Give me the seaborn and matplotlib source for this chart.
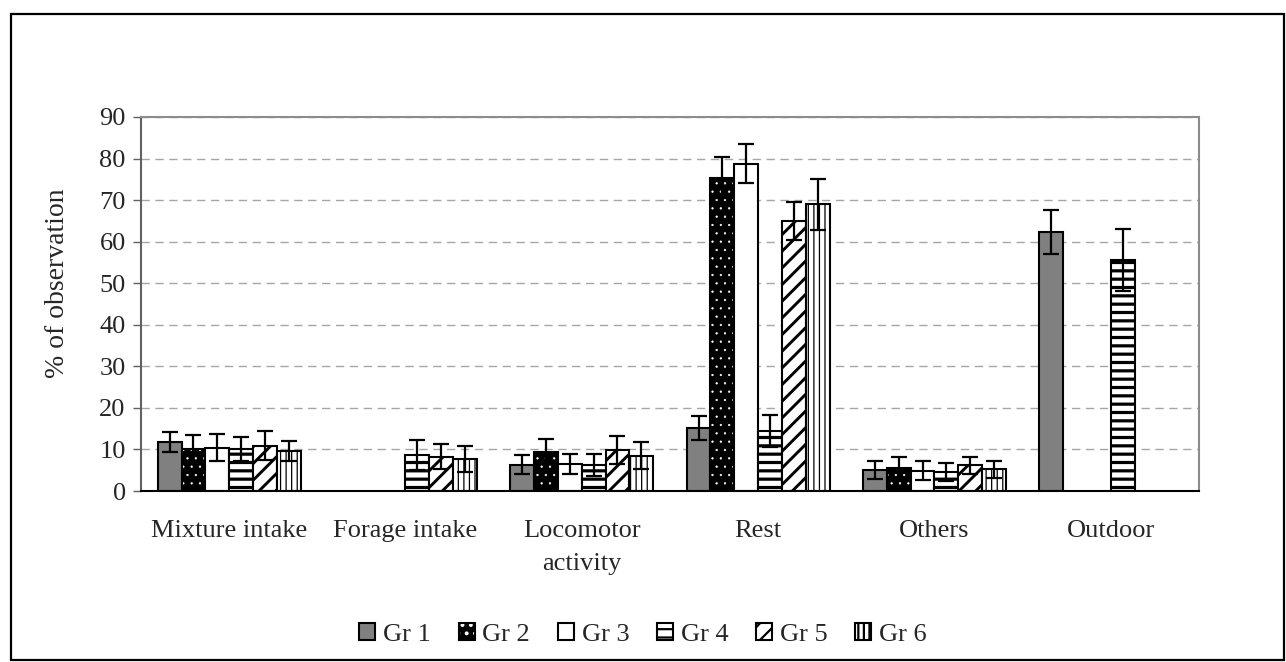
import numpy as np
import pandas as pd
import matplotlib
matplotlib.use("Agg")
import matplotlib.pyplot as plt
import matplotlib.colors as mcolors
from matplotlib.patches import Rectangle, Patch
import seaborn as sns

# Activity categories and groups
categories = ["Mixture intake", "Forage intake", "Locomotor\nactivity", "Rest", "Others", "Outdoor"]
groups = ["Gr 1", "Gr 2", "Gr 3", "Gr 4", "Gr 5", "Gr 6"]

# Mean % of observation per group (one value per category); 0 = not observed
gr1_mean = [11.7, 0.0, 6.3, 15.2, 5.1, 62.3]
gr2_mean = [10.1, 0.0, 9.5, 75.4, 5.6, 0.0]
gr3_mean = [10.4, 0.0, 6.5, 78.8, 4.9, 0.0]
gr4_mean = [10.1, 8.7, 6.2, 14.4, 4.5, 55.6]
gr5_mean = [10.9, 8.3, 9.9, 64.9, 6.2, 0.0]
gr6_mean = [9.7, 7.7, 8.5, 69.0, 5.2, 0.0]

# Standard deviations
gr1_sd = [2.4, 0.0, 2.3, 2.9, 2.1, 5.3]
gr2_sd = [3.4, 0.0, 3.0, 4.9, 2.5, 0.0]
gr3_sd = [3.2, 0.0, 2.4, 4.8, 2.2, 0.0]
gr4_sd = [2.8, 3.6, 2.7, 3.9, 2.2, 7.4]
gr5_sd = [3.5, 3.1, 3.3, 4.6, 2.1, 0.0]
gr6_sd = [2.4, 3.1, 3.3, 6.1, 2.1, 0.0]

y_ticks = [0, 10, 20, 30, 40, 50, 60, 70, 80, 90]

means = [gr1_mean, gr2_mean, gr3_mean, gr4_mean, gr5_mean, gr6_mean]
sds = [gr1_sd, gr2_sd, gr3_sd, gr4_sd, gr5_sd, gr6_sd]

rows = []
for g, m_list, s_list in zip(groups, means, sds):
    for c, m, s in zip(categories, m_list, s_list):
        rows.append({"Category": c, "Group": g, "Mean": m, "SD": s})
df = pd.DataFrame(rows)

sns.set_theme(style="white")
plt.rcParams["font.family"] = ["Liberation Serif", "DejaVu Serif"]
plt.rcParams["hatch.linewidth"] = 1.6

FS = 19

fig = plt.figure(figsize=(12.86, 6.62), dpi=100)
ax = fig.add_axes([0.1096, 0.2583, 0.8227, 0.5650])

palette = {"Gr 1": "#808080", "Gr 2": "#000000", "Gr 3": "#ffffff",
           "Gr 4": "#ffffff", "Gr 5": "#ffffff", "Gr 6": "#ffffff"}
hatches = {"Gr 1": "", "Gr 2": "..", "Gr 3": "", "Gr 4": "--", "Gr 5": "//", "Gr 6": "|||"}
hatch_colors = {"Gr 2": "white"}
hatch_lw = {"Gr 2": 0.4, "Gr 4": 2.3, "Gr 5": 2.1, "Gr 6": 0.9}

sns.barplot(data=df, x="Category", y="Mean", hue="Group", order=categories,
            hue_order=groups, palette=palette, errorbar=None, width=0.81,
            edgecolor="black", linewidth=1.5, ax=ax, legend=False, zorder=2)


def style_patch(p, g):
    p.set_edgecolor("black")
    p.set_linewidth(1.5)
    p.set_hatch(hatches[g])
    if g in hatch_colors:
        p._hatch_color = mcolors.to_rgba(hatch_colors[g])
    if hasattr(p, "set_hatch_linewidth") and g in hatch_lw:
        p.set_hatch_linewidth(hatch_lw[g])


for container, g in zip(ax.containers, groups):
    sub = df[df["Group"] == g].set_index("Category").loc[categories]
    for bar, m, s in zip(container.patches, sub["Mean"], sub["SD"]):
        style_patch(bar, g)
        if m <= 0:
            bar.set_visible(False)
            continue
        xc = bar.get_x() + bar.get_width() / 2
        ax.errorbar(xc, m, yerr=s, fmt="none", ecolor="black", elinewidth=1.6,
                    capsize=6, capthick=1.6, zorder=4)

# Axes styling
ax.set_ylim(0, 90)
ax.set_xlim(-0.5, len(categories) - 0.5)
ax.set_yticks(y_ticks)
ax.set_yticklabels([str(t) for t in y_ticks], fontsize=FS)
ax.yaxis.grid(True, linestyle=(0, (6, 4)), color="#a6a6a6", linewidth=1.0)
ax.set_axisbelow(True)

ax.set_xticks(range(len(categories)))
ax.set_xticklabels(categories, fontsize=FS, linespacing=1.65, va="top")
ax.set_xticks(np.arange(-0.5, len(categories)), minor=True)
ax.tick_params(axis="x", which="major", length=0, pad=21)
ax.tick_params(axis="x", which="minor", length=6, width=1, color="black", direction="out")
ax.tick_params(axis="y", which="major", length=6, width=1, color="#606060", direction="out", pad=5, left=True)
ax.set_xlabel("")
ax.set_ylabel("% of observation", fontsize=20)
ax.yaxis.set_label_coords(-0.067, 0.556)

for side in ["top", "right"]:
    ax.spines[side].set_visible(True)
    ax.spines[side].set_color("#8c8c8c")
    ax.spines[side].set_linewidth(1.5)
ax.spines["left"].set_color("#606060")
ax.spines["left"].set_linewidth(1.5)
ax.spines["bottom"].set_color("black")
ax.spines["bottom"].set_linewidth(1.5)

# Legend with hatched swatches
handles = []
for g in groups:
    h = Patch(facecolor=palette[g], edgecolor="black", linewidth=1.5, label=g)
    style_patch(h, g)
    handles.append(h)
fig.legend(handles=handles, loc="center", bbox_to_anchor=(0.5, 0.042), ncol=6,
           frameon=False, fontsize=FS, handlelength=0.6, handleheight=0.6,
           handletextpad=0.3, columnspacing=1.05)

# Outer frame around the figure
fig.patches.append(Rectangle((0.0086, 0.003), 0.9899, 0.976, transform=fig.transFigure,
                             fill=False, edgecolor="black", linewidth=1.6))

fig.savefig("out.png", dpi=100)
